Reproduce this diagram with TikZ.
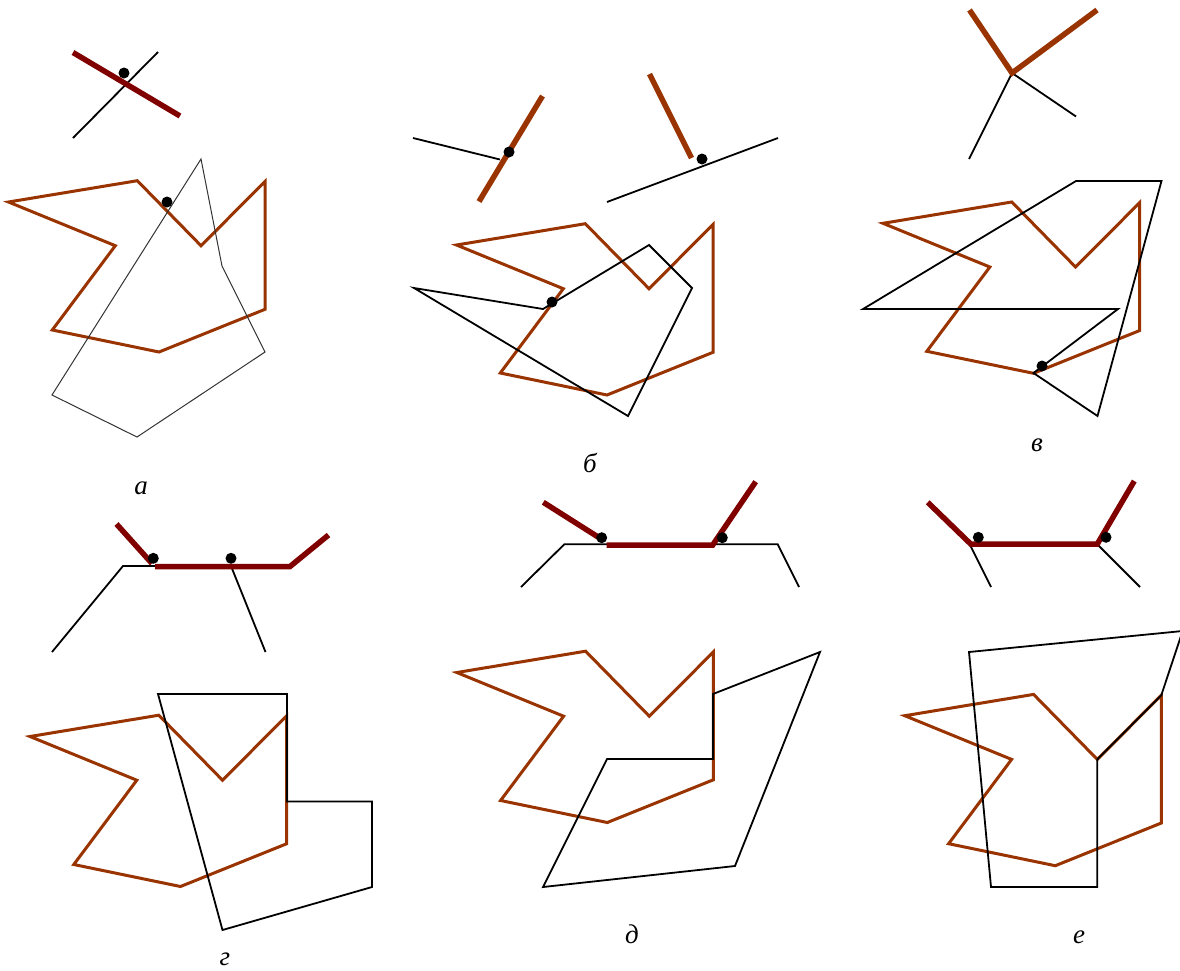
\documentclass[tikz,border=0pt]{standalone}
\usepackage{fontspec}
\setmainfont{Liberation Serif}
\definecolor{polybrown}{RGB}{153,51,0}
\definecolor{edgered}{RGB}{128,0,0}
\begin{document}
\begin{tikzpicture}[x=1pt,y=-1pt,
  blk/.style={draw=black, line width=1.8pt, line join=miter},
  faint/.style={draw=black!80, line width=1pt},
  poly/.style={draw=polybrown, line width=3pt, line join=miter},
  thickbrown/.style={draw=polybrown, line width=5.5pt, line join=miter},
  thickred/.style={draw=edgered, line width=5.5pt, line join=miter},
  vdot/.style={fill=black, circle, inner sep=0pt, minimum size=11pt},
  lbl/.style={font=\fontsize{27}{30}\selectfont\itshape, anchor=base, inner sep=0pt},
  pics/lpoly/.style={code={
    \draw[poly] (8.5,202) -- (137.3,180.7) -- (201,245.7) -- (265,181.5)
      -- (265,309.3) -- (159,352) -- (52.3,330) -- (115.3,245.7) -- cycle;}}]
\useasboundingbox (0,0) rectangle (1180,970);

% ---------- panel a ----------
\draw[blk] (73,138) -- (158,52);
\draw[thickred] (73,52.5) -- (180,116);
\node[vdot] (a1) at (124,73) {};
\pic (pa) at (0,0) {lpoly};
\draw[faint] (201,159) -- (222,266) -- (265,352) -- (137,437) -- (52,395) -- cycle;
\node[vdot] (a2) at (167,202) {};
\node[lbl] (la) at (141,494) {а};

% ---------- panel b ----------
\draw[blk] (413,138) -- (500,159.5);
\draw[thickbrown] (479,201.5) -- (542.5,96);
\node[vdot] (b1) at (509,152) {};
\draw[blk] (607,202) -- (778,138);
\draw[thickbrown] (649.5,74) -- (691.5,158);
\node[vdot] (b2) at (702,159) {};
\pic (pb) at (448,43) {lpoly};
\draw[blk] (414,288) -- (543,309) -- (649,245) -- (692,288) -- (628,416) -- cycle;
\node[vdot] (b3) at (552,302) {};
\node[lbl] (lb) at (590,472.5) {б};

% ---------- panel v ----------
\draw[blk] (969,159) -- (1012,73) -- (1076,116.5);
\draw[thickbrown] (969.5,10) -- (1012,73) -- (1097,10);
\pic (pv) at (874.5,21.3) {lpoly};
\draw[blk] (863,309) -- (1076,181) -- (1161.5,181) -- (1097.5,416) -- (1033.5,373) -- (1118,309) -- cycle;
\node[vdot] (v1) at (1042,366) {};
\node[lbl] (lv) at (1037,451) {в};

% ---------- panel g ----------
\draw[blk] (52,652) -- (123,566) -- (155,566);
\draw[blk] (231,566) -- (265.5,652);
\draw[thickred] (116.5,524) -- (152,563.5);
\draw[thickred] (155,566.5) -- (290,566.5) -- (328.5,535);
\node[vdot] (g1) at (153.3,558.3) {};
\node[vdot] (g2) at (231,558.3) {};
\pic (pg) at (21.5,534.5) {lpoly};
\draw[blk] (158,694) -- (287,694) -- (287,801.5) -- (372,801.5) -- (372,887) -- (222.5,930) -- cycle;
\node[lbl] (lg) at (225,965) {г};

% ---------- panel d ----------
\draw[blk] (521,587) -- (564.3,544.3) -- (777.7,544.3) -- (799,587);
\draw[thickred] (543.3,502.3) -- (601.7,539.3);
\draw[thickred] (606.7,545) -- (712.7,545) -- (755.7,481.7);
\node[vdot] (d1) at (601.7,537.7) {};
\node[vdot] (d2) at (722.3,537.7) {};
\pic (pd) at (448.3,470.5) {lpoly};
\draw[blk] (713,694) -- (820,652) -- (735,866) -- (543,887) -- (607,759) -- (713,759) -- cycle;
\node[lbl] (ld) at (632,943) {д};

% ---------- panel e ----------
\draw[blk] (970,545) -- (991,587);
\draw[blk] (1098,545) -- (1140,587);
\draw[thickred] (927.7,502.3) -- (970.7,544) -- (1097.3,544) -- (1134.3,481);
\node[vdot] (e1) at (978.3,537.3) {};
\node[vdot] (e2) at (1106,537.3) {};
\pic (pe) at (896.3,513.7) {lpoly};
\draw[blk] (969,652) -- (1182.6,631) -- (1161.3,695.2) -- (1097.3,759.4) -- (1097.3,887) -- (991,887) -- cycle;
\node[lbl] (le) at (1079,943) {е};
\end{tikzpicture}
\end{document}
